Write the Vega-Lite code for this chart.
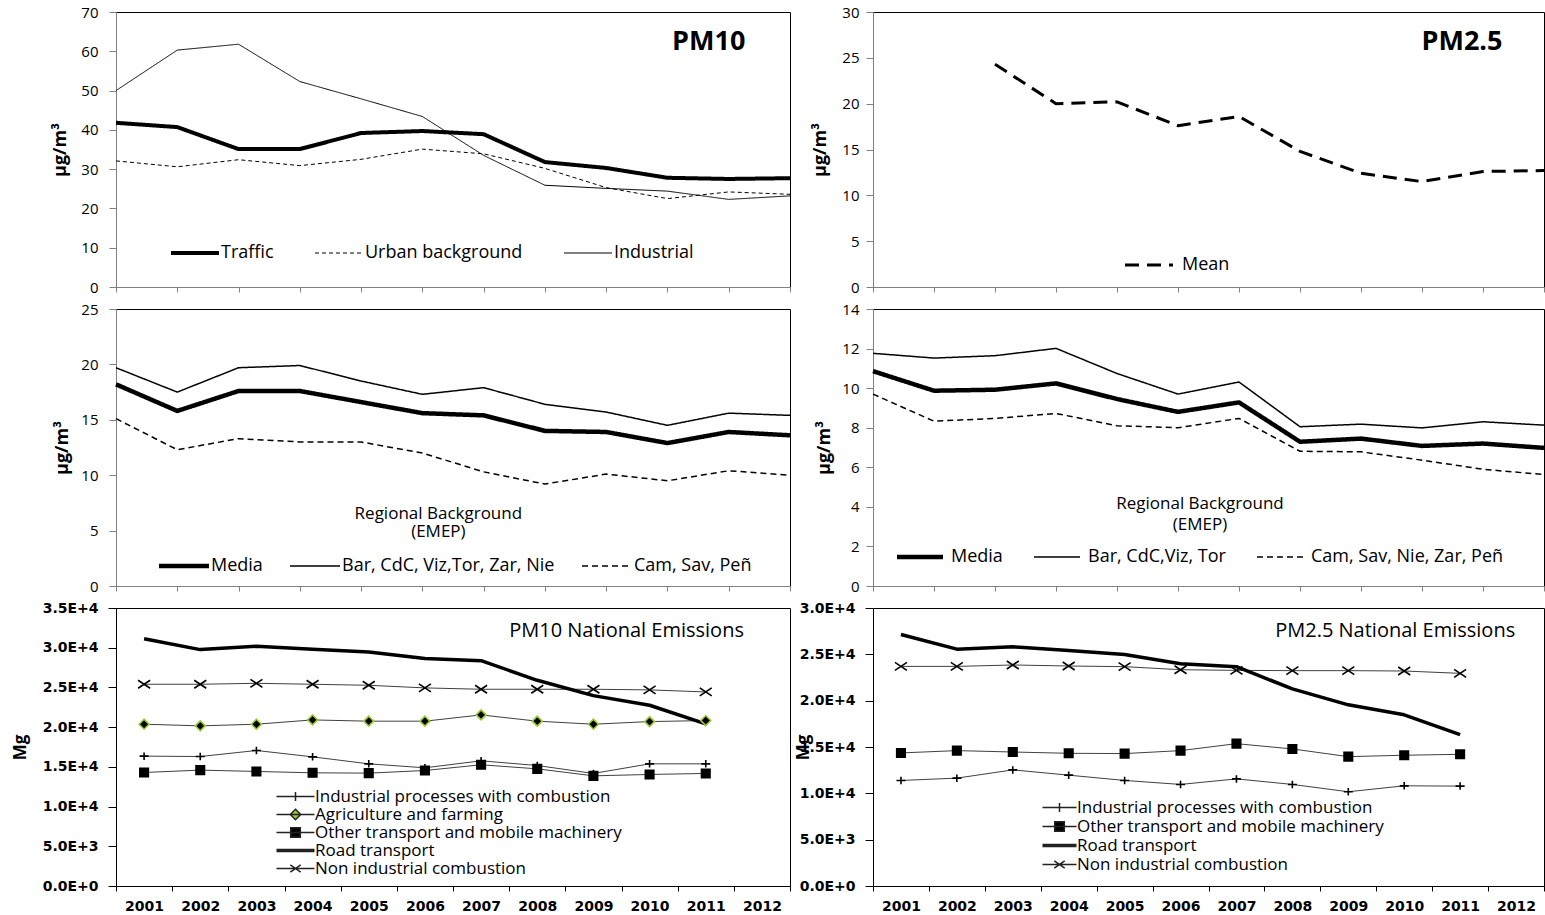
{
 "$schema": "https://vega.github.io/schema/vega-lite/v6.json",
 "autosize": {"type": "pad"},
 "padding": {"left": 10, "top": 4, "right": 0, "bottom": 0},
 "background": "white",
 "columns": 2,
 "bounds": "flush",
 "spacing": {"row": 22, "column": 83},
 "resolve": {
  "scale": {"strokeDash": "independent", "strokeWidth": "independent", "shape": "independent", "stroke": "independent", "color": "independent", "fill": "independent"},
  "legend": {"strokeDash": "independent", "shape": "independent", "strokeWidth": "independent", "stroke": "independent", "fill": "independent"}
 },
 "config": {
  "view": {"stroke": "black", "strokeWidth": 1},
  "font": "Open Sans",
  "axis": {"grid": false, "labelFont": "Open Sans", "labelColor": "black", "titleColor": "black", "titleFont": "Open Sans", "titleFontWeight": "bold", "domainWidth": 1, "tickWidth": 1, "labelOverlap": false},
  "legend": {"padding": 0, "labelFont": "Open Sans", "labelColor": "black", "labelLimit": 400, "title": null}
 },
 "datasets": {
  "tl": [
   {"year": "2001", "series": "Traffic", "value": 41.8},
   {"year": "2002", "series": "Traffic", "value": 40.7},
   {"year": "2003", "series": "Traffic", "value": 35.1},
   {"year": "2004", "series": "Traffic", "value": 35.1},
   {"year": "2005", "series": "Traffic", "value": 39.2},
   {"year": "2006", "series": "Traffic", "value": 39.7},
   {"year": "2007", "series": "Traffic", "value": 38.9},
   {"year": "2008", "series": "Traffic", "value": 31.8},
   {"year": "2009", "series": "Traffic", "value": 30.3},
   {"year": "2010", "series": "Traffic", "value": 27.8},
   {"year": "2011", "series": "Traffic", "value": 27.5},
   {"year": "2012", "series": "Traffic", "value": 27.7},
   {"year": "2001", "series": "Urban background", "value": 32.1},
   {"year": "2002", "series": "Urban background", "value": 30.6},
   {"year": "2003", "series": "Urban background", "value": 32.4},
   {"year": "2004", "series": "Urban background", "value": 30.9},
   {"year": "2005", "series": "Urban background", "value": 32.5},
   {"year": "2006", "series": "Urban background", "value": 35.1},
   {"year": "2007", "series": "Urban background", "value": 33.9},
   {"year": "2008", "series": "Urban background", "value": 30.2},
   {"year": "2009", "series": "Urban background", "value": 25.3},
   {"year": "2010", "series": "Urban background", "value": 22.5},
   {"year": "2011", "series": "Urban background", "value": 24.2},
   {"year": "2012", "series": "Urban background", "value": 23.6},
   {"year": "2001", "series": "Industrial", "value": 50.0},
   {"year": "2002", "series": "Industrial", "value": 60.3},
   {"year": "2003", "series": "Industrial", "value": 61.8},
   {"year": "2004", "series": "Industrial", "value": 52.3},
   {"year": "2005", "series": "Industrial", "value": 47.9},
   {"year": "2006", "series": "Industrial", "value": 43.4},
   {"year": "2007", "series": "Industrial", "value": 33.5},
   {"year": "2008", "series": "Industrial", "value": 25.9},
   {"year": "2009", "series": "Industrial", "value": 25.1},
   {"year": "2010", "series": "Industrial", "value": 24.4},
   {"year": "2011", "series": "Industrial", "value": 22.3},
   {"year": "2012", "series": "Industrial", "value": 23.2}
  ],
  "tr": [
   {"year": "2003", "series": "Mean", "value": 24.3},
   {"year": "2004", "series": "Mean", "value": 20.0},
   {"year": "2005", "series": "Mean", "value": 20.2},
   {"year": "2006", "series": "Mean", "value": 17.6},
   {"year": "2007", "series": "Mean", "value": 18.6},
   {"year": "2008", "series": "Mean", "value": 14.8},
   {"year": "2009", "series": "Mean", "value": 12.4},
   {"year": "2010", "series": "Mean", "value": 11.5},
   {"year": "2011", "series": "Mean", "value": 12.6},
   {"year": "2012", "series": "Mean", "value": 12.7}
  ],
  "ml": [
   {"year": "2001", "series": "Media", "value": 18.2},
   {"year": "2002", "series": "Media", "value": 15.8},
   {"year": "2003", "series": "Media", "value": 17.6},
   {"year": "2004", "series": "Media", "value": 17.6},
   {"year": "2005", "series": "Media", "value": 16.6},
   {"year": "2006", "series": "Media", "value": 15.6},
   {"year": "2007", "series": "Media", "value": 15.4},
   {"year": "2008", "series": "Media", "value": 14.0},
   {"year": "2009", "series": "Media", "value": 13.9},
   {"year": "2010", "series": "Media", "value": 12.9},
   {"year": "2011", "series": "Media", "value": 13.9},
   {"year": "2012", "series": "Media", "value": 13.6},
   {"year": "2001", "series": "Bar, CdC, Viz,Tor, Zar, Nie", "value": 19.7},
   {"year": "2002", "series": "Bar, CdC, Viz,Tor, Zar, Nie", "value": 17.5},
   {"year": "2003", "series": "Bar, CdC, Viz,Tor, Zar, Nie", "value": 19.7},
   {"year": "2004", "series": "Bar, CdC, Viz,Tor, Zar, Nie", "value": 19.9},
   {"year": "2005", "series": "Bar, CdC, Viz,Tor, Zar, Nie", "value": 18.5},
   {"year": "2006", "series": "Bar, CdC, Viz,Tor, Zar, Nie", "value": 17.3},
   {"year": "2007", "series": "Bar, CdC, Viz,Tor, Zar, Nie", "value": 17.9},
   {"year": "2008", "series": "Bar, CdC, Viz,Tor, Zar, Nie", "value": 16.4},
   {"year": "2009", "series": "Bar, CdC, Viz,Tor, Zar, Nie", "value": 15.7},
   {"year": "2010", "series": "Bar, CdC, Viz,Tor, Zar, Nie", "value": 14.5},
   {"year": "2011", "series": "Bar, CdC, Viz,Tor, Zar, Nie", "value": 15.6},
   {"year": "2012", "series": "Bar, CdC, Viz,Tor, Zar, Nie", "value": 15.4},
   {"year": "2001", "series": "Cam, Sav, Peñ", "value": 15.1},
   {"year": "2002", "series": "Cam, Sav, Peñ", "value": 12.3},
   {"year": "2003", "series": "Cam, Sav, Peñ", "value": 13.3},
   {"year": "2004", "series": "Cam, Sav, Peñ", "value": 13.0},
   {"year": "2005", "series": "Cam, Sav, Peñ", "value": 13.0},
   {"year": "2006", "series": "Cam, Sav, Peñ", "value": 12.0},
   {"year": "2007", "series": "Cam, Sav, Peñ", "value": 10.3},
   {"year": "2008", "series": "Cam, Sav, Peñ", "value": 9.2},
   {"year": "2009", "series": "Cam, Sav, Peñ", "value": 10.1},
   {"year": "2010", "series": "Cam, Sav, Peñ", "value": 9.5},
   {"year": "2011", "series": "Cam, Sav, Peñ", "value": 10.4},
   {"year": "2012", "series": "Cam, Sav, Peñ", "value": 10.0}
  ],
  "mr": [
   {"year": "2001", "series": "Media", "value": 10.86},
   {"year": "2002", "series": "Media", "value": 9.87},
   {"year": "2003", "series": "Media", "value": 9.92},
   {"year": "2004", "series": "Media", "value": 10.24},
   {"year": "2005", "series": "Media", "value": 9.45},
   {"year": "2006", "series": "Media", "value": 8.80},
   {"year": "2007", "series": "Media", "value": 9.28},
   {"year": "2008", "series": "Media", "value": 7.29},
   {"year": "2009", "series": "Media", "value": 7.45},
   {"year": "2010", "series": "Media", "value": 7.08},
   {"year": "2011", "series": "Media", "value": 7.20},
   {"year": "2012", "series": "Media", "value": 6.98},
   {"year": "2001", "series": "Bar, CdC,Viz, Tor", "value": 11.76},
   {"year": "2002", "series": "Bar, CdC,Viz, Tor", "value": 11.52},
   {"year": "2003", "series": "Bar, CdC,Viz, Tor", "value": 11.64},
   {"year": "2004", "series": "Bar, CdC,Viz, Tor", "value": 12.01},
   {"year": "2005", "series": "Bar, CdC,Viz, Tor", "value": 10.74},
   {"year": "2006", "series": "Bar, CdC,Viz, Tor", "value": 9.70},
   {"year": "2007", "series": "Bar, CdC,Viz, Tor", "value": 10.31},
   {"year": "2008", "series": "Bar, CdC,Viz, Tor", "value": 8.05},
   {"year": "2009", "series": "Bar, CdC,Viz, Tor", "value": 8.18},
   {"year": "2010", "series": "Bar, CdC,Viz, Tor", "value": 7.99},
   {"year": "2011", "series": "Bar, CdC,Viz, Tor", "value": 8.30},
   {"year": "2012", "series": "Bar, CdC,Viz, Tor", "value": 8.13},
   {"year": "2001", "series": "Cam, Sav, Nie, Zar, Peñ", "value": 9.70},
   {"year": "2002", "series": "Cam, Sav, Nie, Zar, Peñ", "value": 8.33},
   {"year": "2003", "series": "Cam, Sav, Nie, Zar, Peñ", "value": 8.47},
   {"year": "2004", "series": "Cam, Sav, Nie, Zar, Peñ", "value": 8.72},
   {"year": "2005", "series": "Cam, Sav, Nie, Zar, Peñ", "value": 8.10},
   {"year": "2006", "series": "Cam, Sav, Nie, Zar, Peñ", "value": 8.00},
   {"year": "2007", "series": "Cam, Sav, Nie, Zar, Peñ", "value": 8.47},
   {"year": "2008", "series": "Cam, Sav, Nie, Zar, Peñ", "value": 6.81},
   {"year": "2009", "series": "Cam, Sav, Nie, Zar, Peñ", "value": 6.78},
   {"year": "2010", "series": "Cam, Sav, Nie, Zar, Peñ", "value": 6.36},
   {"year": "2011", "series": "Cam, Sav, Nie, Zar, Peñ", "value": 5.90},
   {"year": "2012", "series": "Cam, Sav, Nie, Zar, Peñ", "value": 5.63}
  ],
  "bl": [
   {"year": "2001", "series": "Road transport", "value": 31140},
   {"year": "2002", "series": "Road transport", "value": 29760},
   {"year": "2003", "series": "Road transport", "value": 30180},
   {"year": "2004", "series": "Road transport", "value": 29800},
   {"year": "2005", "series": "Road transport", "value": 29460},
   {"year": "2006", "series": "Road transport", "value": 28630},
   {"year": "2007", "series": "Road transport", "value": 28370},
   {"year": "2008", "series": "Road transport", "value": 25900},
   {"year": "2009", "series": "Road transport", "value": 23970},
   {"year": "2010", "series": "Road transport", "value": 22760},
   {"year": "2011", "series": "Road transport", "value": 20410},
   {"year": "2001", "series": "Non industrial combustion", "value": 25400},
   {"year": "2002", "series": "Non industrial combustion", "value": 25400},
   {"year": "2003", "series": "Non industrial combustion", "value": 25520},
   {"year": "2004", "series": "Non industrial combustion", "value": 25400},
   {"year": "2005", "series": "Non industrial combustion", "value": 25270},
   {"year": "2006", "series": "Non industrial combustion", "value": 24940},
   {"year": "2007", "series": "Non industrial combustion", "value": 24770},
   {"year": "2008", "series": "Non industrial combustion", "value": 24770},
   {"year": "2009", "series": "Non industrial combustion", "value": 24770},
   {"year": "2010", "series": "Non industrial combustion", "value": 24690},
   {"year": "2011", "series": "Non industrial combustion", "value": 24430},
   {"year": "2001", "series": "Agriculture and farming", "value": 20370},
   {"year": "2002", "series": "Agriculture and farming", "value": 20160},
   {"year": "2003", "series": "Agriculture and farming", "value": 20370},
   {"year": "2004", "series": "Agriculture and farming", "value": 20910},
   {"year": "2005", "series": "Agriculture and farming", "value": 20750},
   {"year": "2006", "series": "Agriculture and farming", "value": 20750},
   {"year": "2007", "series": "Agriculture and farming", "value": 21540},
   {"year": "2008", "series": "Agriculture and farming", "value": 20750},
   {"year": "2009", "series": "Agriculture and farming", "value": 20370},
   {"year": "2010", "series": "Agriculture and farming", "value": 20700},
   {"year": "2011", "series": "Agriculture and farming", "value": 20830},
   {"year": "2001", "series": "Industrial processes with combustion", "value": 16350},
   {"year": "2002", "series": "Industrial processes with combustion", "value": 16300},
   {"year": "2003", "series": "Industrial processes with combustion", "value": 17060},
   {"year": "2004", "series": "Industrial processes with combustion", "value": 16260},
   {"year": "2005", "series": "Industrial processes with combustion", "value": 15380},
   {"year": "2006", "series": "Industrial processes with combustion", "value": 14880},
   {"year": "2007", "series": "Industrial processes with combustion", "value": 15760},
   {"year": "2008", "series": "Industrial processes with combustion", "value": 15170},
   {"year": "2009", "series": "Industrial processes with combustion", "value": 14170},
   {"year": "2010", "series": "Industrial processes with combustion", "value": 15380},
   {"year": "2011", "series": "Industrial processes with combustion", "value": 15380},
   {"year": "2001", "series": "Other transport and mobile machinery", "value": 14290},
   {"year": "2002", "series": "Other transport and mobile machinery", "value": 14590},
   {"year": "2003", "series": "Other transport and mobile machinery", "value": 14420},
   {"year": "2004", "series": "Other transport and mobile machinery", "value": 14250},
   {"year": "2005", "series": "Other transport and mobile machinery", "value": 14210},
   {"year": "2006", "series": "Other transport and mobile machinery", "value": 14540},
   {"year": "2007", "series": "Other transport and mobile machinery", "value": 15260},
   {"year": "2008", "series": "Other transport and mobile machinery", "value": 14750},
   {"year": "2009", "series": "Other transport and mobile machinery", "value": 13870},
   {"year": "2010", "series": "Other transport and mobile machinery", "value": 14040},
   {"year": "2011", "series": "Other transport and mobile machinery", "value": 14170}
  ],
  "br": [
   {"year": "2001", "series": "Road transport", "value": 27140},
   {"year": "2002", "series": "Road transport", "value": 25560},
   {"year": "2003", "series": "Road transport", "value": 25810},
   {"year": "2004", "series": "Road transport", "value": 25420},
   {"year": "2005", "series": "Road transport", "value": 24990},
   {"year": "2006", "series": "Road transport", "value": 23990},
   {"year": "2007", "series": "Road transport", "value": 23670},
   {"year": "2008", "series": "Road transport", "value": 21270},
   {"year": "2009", "series": "Road transport", "value": 19550},
   {"year": "2010", "series": "Road transport", "value": 18470},
   {"year": "2011", "series": "Road transport", "value": 16330},
   {"year": "2001", "series": "Non industrial combustion", "value": 23700},
   {"year": "2002", "series": "Non industrial combustion", "value": 23700},
   {"year": "2003", "series": "Non industrial combustion", "value": 23850},
   {"year": "2004", "series": "Non industrial combustion", "value": 23740},
   {"year": "2005", "series": "Non industrial combustion", "value": 23670},
   {"year": "2006", "series": "Non industrial combustion", "value": 23340},
   {"year": "2007", "series": "Non industrial combustion", "value": 23270},
   {"year": "2008", "series": "Non industrial combustion", "value": 23240},
   {"year": "2009", "series": "Non industrial combustion", "value": 23240},
   {"year": "2010", "series": "Non industrial combustion", "value": 23200},
   {"year": "2011", "series": "Non industrial combustion", "value": 22950},
   {"year": "2001", "series": "Other transport and mobile machinery", "value": 14360},
   {"year": "2002", "series": "Other transport and mobile machinery", "value": 14610},
   {"year": "2003", "series": "Other transport and mobile machinery", "value": 14460},
   {"year": "2004", "series": "Other transport and mobile machinery", "value": 14320},
   {"year": "2005", "series": "Other transport and mobile machinery", "value": 14290},
   {"year": "2006", "series": "Other transport and mobile machinery", "value": 14610},
   {"year": "2007", "series": "Other transport and mobile machinery", "value": 15360},
   {"year": "2008", "series": "Other transport and mobile machinery", "value": 14790},
   {"year": "2009", "series": "Other transport and mobile machinery", "value": 13960},
   {"year": "2010", "series": "Other transport and mobile machinery", "value": 14110},
   {"year": "2011", "series": "Other transport and mobile machinery", "value": 14210},
   {"year": "2001", "series": "Industrial processes with combustion", "value": 11390},
   {"year": "2002", "series": "Industrial processes with combustion", "value": 11640},
   {"year": "2003", "series": "Industrial processes with combustion", "value": 12530},
   {"year": "2004", "series": "Industrial processes with combustion", "value": 11960},
   {"year": "2005", "series": "Industrial processes with combustion", "value": 11390},
   {"year": "2006", "series": "Industrial processes with combustion", "value": 10960},
   {"year": "2007", "series": "Industrial processes with combustion", "value": 11560},
   {"year": "2008", "series": "Industrial processes with combustion", "value": 10960},
   {"year": "2009", "series": "Industrial processes with combustion", "value": 10170},
   {"year": "2010", "series": "Industrial processes with combustion", "value": 10810},
   {"year": "2011", "series": "Industrial processes with combustion", "value": 10780}
  ]
 },
 "concat": [
  {
   "width": 674, "height": 275,
   "layer": [
    {
     "data": {"name": "tl"},
     "mark": {"type": "line", "stroke": "black", "strokeJoin": "round"},
     "encoding": {
      "x": {"field": "year", "type": "ordinal", "scale": {"type": "point", "padding": 0, "domain": ["2001","2002","2003","2004","2005","2006","2007","2008","2009","2010","2011","2012"]}, "axis": {"title": null, "labels": false, "tickSize": 5, "tickColor": "#808080", "domainColor": "#808080"}},
      "y": {"field": "value", "type": "quantitative", "scale": {"domain": [0, 70], "nice": false}, "axis": {"title": "μg/m³", "titleX": -56, "titleAngle": -90, "titleAlign": "center", "titleBaseline": "middle", "titleFontSize": 18, "values": [0,10,20,30,40,50,60,70], "tickCount": 20, "format": "d", "labelFontSize": 15, "tickSize": 7, "labelPadding": 11, "tickColor": "#808080", "domainColor": "#808080"}},
      "strokeDash": {"field": "series", "type": "nominal", "scale": {"domain": ["Traffic","Urban background","Industrial"], "range": [[1,0],[4,3],[1,0]]}, "legend": {"orient": "none", "legendX": 86, "legendY": 232, "direction": "horizontal", "symbolType": "M-20,0H4", "symbolSize": 16, "symbolStrokeColor": "black", "labelFontSize": 18, "labelOffset": 1, "columnPadding": 39}},
      "strokeWidth": {"field": "series", "type": "nominal", "scale": {"type": "ordinal", "domain": ["Traffic","Urban background","Industrial"], "range": [4,1,1]}, "legend": null}
     }
    },
    {
     "data": {"values": [{"year": "2011", "value": 62.4, "label": "PM10"}]},
     "mark": {"type": "text", "fontSize": 27, "fontWeight": "bold", "dx": -20, "baseline": "middle", "align": "center", "color": "black"},
     "encoding": {"x": {"field": "year", "type": "ordinal"}, "y": {"field": "value", "type": "quantitative"}, "text": {"field": "label"}}
    }
   ]
  },
  {
   "width": 671, "height": 275,
   "layer": [
    {
     "data": {"name": "tr"},
     "mark": {"type": "line", "stroke": "black", "strokeWidth": 3, "strokeJoin": "round"},
     "encoding": {
      "x": {"field": "year", "type": "ordinal", "scale": {"type": "point", "padding": 0, "domain": ["2001","2002","2003","2004","2005","2006","2007","2008","2009","2010","2011","2012"]}, "axis": {"title": null, "labels": false, "tickSize": 5, "tickColor": "#808080", "domainColor": "#808080"}},
      "y": {"field": "value", "type": "quantitative", "scale": {"domain": [0, 30], "nice": false}, "axis": {"title": "μg/m³", "titleX": -53, "titleAngle": -90, "titleAlign": "center", "titleBaseline": "middle", "titleFontSize": 18, "values": [0,5,10,15,20,25,30], "tickCount": 20, "format": "d", "labelFontSize": 15, "tickSize": 7, "labelPadding": 7, "tickColor": "#808080", "domainColor": "#808080"}},
      "strokeDash": {"field": "series", "type": "nominal", "scale": {"domain": ["Mean"], "range": [[14,8]]}, "legend": {"orient": "none", "legendX": 283, "legendY": 244, "direction": "horizontal", "symbolType": "M-20,0H4", "symbolSize": 16, "symbolStrokeColor": "black", "symbolStrokeWidth": 3, "labelFontSize": 18, "labelOffset": 8}}
     }
    },
    {
     "data": {"values": [{"year": "2011", "value": 26.7, "label": "PM2.5"}]},
     "mark": {"type": "text", "fontSize": 27, "fontWeight": "bold", "dx": -21, "baseline": "middle", "align": "center", "color": "black"},
     "encoding": {"x": {"field": "year", "type": "ordinal"}, "y": {"field": "value", "type": "quantitative"}, "text": {"field": "label"}}
    }
   ]
  },
  {
   "width": 674, "height": 277,
   "layer": [
    {
     "data": {"name": "ml"},
     "mark": {"type": "line", "stroke": "black", "strokeJoin": "round"},
     "encoding": {
      "x": {"field": "year", "type": "ordinal", "scale": {"type": "point", "padding": 0, "domain": ["2001","2002","2003","2004","2005","2006","2007","2008","2009","2010","2011","2012"]}, "axis": {"title": null, "labels": false, "tickSize": 5, "tickColor": "#808080", "domainColor": "#808080"}},
      "y": {"field": "value", "type": "quantitative", "scale": {"domain": [0, 25], "nice": false}, "axis": {"title": "μg/m³", "titleX": -54, "titleAngle": -90, "titleAlign": "center", "titleBaseline": "middle", "titleFontSize": 18, "values": [0,5,10,15,20,25], "tickCount": 20, "format": "d", "labelFontSize": 15, "tickSize": 7, "labelPadding": 11, "tickColor": "#808080", "domainColor": "#808080"}},
      "strokeDash": {"field": "series", "type": "nominal", "scale": {"domain": ["Media","Bar, CdC, Viz,Tor, Zar, Nie","Cam, Sav, Peñ"], "range": [[1,0],[1,0],[6,4]]}, "legend": {"orient": "none", "legendX": 76, "legendY": 248, "direction": "horizontal", "symbolType": "M-21,0H4", "symbolSize": 16, "symbolStrokeColor": "black", "labelFontSize": 18, "labelOffset": 1, "columnPadding": 24}},
      "strokeWidth": {"field": "series", "type": "nominal", "scale": {"type": "ordinal", "domain": ["Media","Bar, CdC, Viz,Tor, Zar, Nie","Cam, Sav, Peñ"], "range": [4.5,1.5,1.5]}, "legend": null}
     }
    },
    {
     "data": {"values": [{"year": "2006", "value": 6.54, "label": "Regional Background|(EMEP)"}]},
     "mark": {"type": "text", "fontSize": 17, "lineBreak": "|", "lineHeight": 18, "dx": 16, "baseline": "middle", "align": "center", "color": "black"},
     "encoding": {"x": {"field": "year", "type": "ordinal"}, "y": {"field": "value", "type": "quantitative"}, "text": {"field": "label"}}
    }
   ]
  },
  {
   "width": 671, "height": 277,
   "layer": [
    {
     "data": {"name": "mr"},
     "mark": {"type": "line", "stroke": "black", "strokeJoin": "round"},
     "encoding": {
      "x": {"field": "year", "type": "ordinal", "scale": {"type": "point", "padding": 0, "domain": ["2001","2002","2003","2004","2005","2006","2007","2008","2009","2010","2011","2012"]}, "axis": {"title": null, "labels": false, "tickSize": 5, "tickColor": "#808080", "domainColor": "#808080"}},
      "y": {"field": "value", "type": "quantitative", "scale": {"domain": [0, 14], "nice": false}, "axis": {"title": "μg/m³", "titleX": -49, "titleAngle": -90, "titleAlign": "center", "titleBaseline": "middle", "titleFontSize": 18, "values": [0,2,4,6,8,10,12,14], "tickCount": 20, "format": "d", "labelFontSize": 15, "tickSize": 7, "labelPadding": 7, "tickColor": "#808080", "domainColor": "#808080"}},
      "strokeDash": {"field": "series", "type": "nominal", "scale": {"domain": ["Media","Bar, CdC,Viz, Tor","Cam, Sav, Nie, Zar, Peñ"], "range": [[1,0],[1,0],[6,4]]}, "legend": {"orient": "none", "legendX": 53, "legendY": 239, "direction": "horizontal", "symbolType": "M-19,0H4", "symbolSize": 16, "symbolStrokeColor": "black", "labelFontSize": 18, "labelOffset": 7, "columnPadding": 28}},
      "strokeWidth": {"field": "series", "type": "nominal", "scale": {"type": "ordinal", "domain": ["Media","Bar, CdC,Viz, Tor","Cam, Sav, Nie, Zar, Peñ"], "range": [4.5,1.5,1.5]}, "legend": null}
     }
    },
    {
     "data": {"values": [{"year": "2006", "value": 4.12, "label": "Regional Background|(EMEP)"}]},
     "mark": {"type": "text", "fontSize": 17, "lineBreak": "|", "lineHeight": 21, "dx": 22, "baseline": "middle", "align": "center", "color": "black"},
     "encoding": {"x": {"field": "year", "type": "ordinal"}, "y": {"field": "value", "type": "quantitative"}, "text": {"field": "label"}}
    }
   ]
  },
  {
   "width": 674, "height": 278,
   "resolve": {"scale": {"shape": "independent", "fill": "independent", "strokeWidth": "independent"}, "legend": {"shape": "independent"}},
   "layer": [
    {
     "data": {"name": "bl"},
     "transform": [{"filter": "datum.series !== 'Road transport'"}],
     "mark": {"type": "line", "stroke": "#404040", "strokeWidth": 1},
     "encoding": {
      "x": {"field": "year", "type": "ordinal", "scale": {"type": "band", "paddingInner": 0, "paddingOuter": 0, "domain": ["2001","2002","2003","2004","2005","2006","2007","2008","2009","2010","2011","2012"]}, "axis": {"title": null, "tickBand": "extent", "labelAngle": 0, "labelFont": "DejaVu Sans", "labelFontWeight": "bold", "labelFontSize": 14, "labelPadding": 8, "tickSize": 5, "tickColor": "black", "domainColor": "black"}},
      "y": {"field": "value", "type": "quantitative", "scale": {"domain": [0, 35000], "nice": false}, "axis": {"title": "Mg", "titleX": -96, "titleAngle": -90, "titleAlign": "center", "titleBaseline": "middle", "titleFontSize": 17, "values": [0,5000,10000,15000,20000,25000,30000,35000], "tickCount": 20, "labelExpr": "datum.value == 0 ? '0.0E+0' : datum.value < 10000 ? format(datum.value / 1000, '.1f') + 'E+3' : format(datum.value / 10000, '.1f') + 'E+4'", "labelFont": "DejaVu Sans", "labelFontWeight": "bold", "labelFontSize": 14, "tickSize": 8, "labelPadding": 10, "tickColor": "black", "domainColor": "black"}},
      "detail": {"field": "series"}
     }
    },
    {
     "data": {"name": "bl"},
     "transform": [{"filter": "datum.series === 'Road transport'"}],
     "mark": {"type": "line", "stroke": "black", "strokeWidth": 3.5, "strokeJoin": "round"},
     "encoding": {
      "x": {"field": "year", "type": "ordinal"},
      "y": {"field": "value", "type": "quantitative"}
     }
    },
    {
     "data": {"name": "bl"},
     "transform": [{"filter": "datum.series !== 'Road transport'"}],
     "mark": {"type": "point", "filled": true, "fill": "black", "size": 100, "strokeWidth": 1.6, "opacity": 1},
     "encoding": {
      "x": {"field": "year", "type": "ordinal"},
      "y": {"field": "value", "type": "quantitative"},
      "shape": {"field": "series", "type": "nominal", "scale": {"domain": ["Industrial processes with combustion","Agriculture and farming","Other transport and mobile machinery","Non industrial combustion"], "range": ["M-0.9,0H0.9M0,-0.75V0.75", "diamond", "M-0.85,-0.85H0.85V0.85H-0.85Z", "M-1.2,-0.8L1.2,0.8M-1.2,0.8L1.2,-0.8"]}, "legend": null},
      "stroke": {"field": "series", "type": "nominal", "scale": {"domain": ["Industrial processes with combustion","Agriculture and farming","Other transport and mobile machinery","Non industrial combustion"], "range": ["black", "#9ACD32", "black", "black"]}, "legend": null}
     }
    },
    {
     "data": {"name": "bl"},
     "transform": [{"filter": "false"}],
     "mark": {"type": "point", "filled": false, "stroke": "#222222", "fill": "black", "opacity": 1},
     "encoding": {
      "x": {"field": "year", "type": "ordinal"},
      "y": {"field": "value", "type": "quantitative"},
      "shape": {"field": "series", "type": "nominal", "scale": {"domain": ["Industrial processes with combustion","Agriculture and farming","Other transport and mobile machinery","Road transport","Non industrial combustion"], "range": ["M-14.5,0H4.5M-5,-2.2V2.2", "M-14.5,0H4.5M-5,-2.6L-2.4,0L-5,2.6L-7.6,0Z", "M-14.5,0H4.5M-7.4,-2.4H-2.6V2.4H-7.4Z", "M-14.5,0H4.5", "M-14.5,0H4.5M-7.6,-1.8L-2.4,1.8M-7.6,1.8L-2.4,-1.8"]},
       "legend": {"orient": "none", "legendX": 181, "legendY": 180, "direction": "vertical", "symbolSize": 16, "symbolStrokeColor": "#222222", "symbolFillColor": "black", "symbolOpacity": 1, "labelFontSize": 17, "labelOffset": 1, "rowPadding": 0}},
      "strokeWidth": {"field": "series", "type": "nominal", "scale": {"type": "ordinal", "domain": ["Industrial processes with combustion","Agriculture and farming","Other transport and mobile machinery","Road transport","Non industrial combustion"], "range": [1.5, 1.5, 1.5, 3.5, 1.5]}, "legend": null},
      "fill": {"field": "series", "type": "nominal", "scale": {"domain": ["Industrial processes with combustion","Agriculture and farming","Other transport and mobile machinery","Road transport","Non industrial combustion"], "range": ["black", "#9ACD32", "black", "black", "black"]}, "legend": null}
     }
    },
    {
     "data": {"values": [{"year": "2010", "value": 32100, "label": "PM10 National Emissions"}]},
     "mark": {"type": "text", "fontSize": 20, "dx": -23, "baseline": "middle", "align": "center", "color": "black"},
     "encoding": {"x": {"field": "year", "type": "ordinal"}, "y": {"field": "value", "type": "quantitative"}, "text": {"field": "label"}}
    }
   ]
  },
  {
   "width": 671, "height": 278,
   "resolve": {"scale": {"shape": "independent", "fill": "independent", "strokeWidth": "independent"}, "legend": {"shape": "independent"}},
   "layer": [
    {
     "data": {"name": "br"},
     "transform": [{"filter": "datum.series !== 'Road transport'"}],
     "mark": {"type": "line", "stroke": "#404040", "strokeWidth": 1},
     "encoding": {
      "x": {"field": "year", "type": "ordinal", "scale": {"type": "band", "paddingInner": 0, "paddingOuter": 0, "domain": ["2001","2002","2003","2004","2005","2006","2007","2008","2009","2010","2011","2012"]}, "axis": {"title": null, "tickBand": "extent", "labelAngle": 0, "labelFont": "DejaVu Sans", "labelFontWeight": "bold", "labelFontSize": 14, "labelPadding": 8, "tickSize": 5, "tickColor": "black", "domainColor": "black"}},
      "y": {"field": "value", "type": "quantitative", "scale": {"domain": [0, 30000], "nice": false}, "axis": {"title": "Mg", "titleX": -70, "titleAngle": -90, "titleAlign": "center", "titleBaseline": "middle", "titleFontSize": 17, "values": [0,5000,10000,15000,20000,25000,30000], "tickCount": 20, "labelExpr": "datum.value == 0 ? '0.0E+0' : datum.value < 10000 ? format(datum.value / 1000, '.1f') + 'E+3' : format(datum.value / 10000, '.1f') + 'E+4'", "labelFont": "DejaVu Sans", "labelFontWeight": "bold", "labelFontSize": 14, "tickSize": 8, "labelPadding": 10, "tickColor": "black", "domainColor": "black"}},
      "detail": {"field": "series"}
     }
    },
    {
     "data": {"name": "br"},
     "transform": [{"filter": "datum.series === 'Road transport'"}],
     "mark": {"type": "line", "stroke": "black", "strokeWidth": 3.5, "strokeJoin": "round"},
     "encoding": {
      "x": {"field": "year", "type": "ordinal"},
      "y": {"field": "value", "type": "quantitative"}
     }
    },
    {
     "data": {"name": "br"},
     "transform": [{"filter": "datum.series !== 'Road transport'"}],
     "mark": {"type": "point", "filled": true, "fill": "black", "size": 100, "strokeWidth": 1.6, "opacity": 1},
     "encoding": {
      "x": {"field": "year", "type": "ordinal"},
      "y": {"field": "value", "type": "quantitative"},
      "shape": {"field": "series", "type": "nominal", "scale": {"domain": ["Industrial processes with combustion","Other transport and mobile machinery","Non industrial combustion"], "range": ["M-0.9,0H0.9M0,-0.75V0.75", "M-0.85,-0.85H0.85V0.85H-0.85Z", "M-1.2,-0.8L1.2,0.8M-1.2,0.8L1.2,-0.8"]}, "legend": null},
      "stroke": {"field": "series", "type": "nominal", "scale": {"domain": ["Industrial processes with combustion","Other transport and mobile machinery","Non industrial combustion"], "range": ["black", "black", "black"]}, "legend": null}
     }
    },
    {
     "data": {"name": "br"},
     "transform": [{"filter": "false"}],
     "mark": {"type": "point", "filled": false, "stroke": "#222222", "fill": "black", "opacity": 1},
     "encoding": {
      "x": {"field": "year", "type": "ordinal"},
      "y": {"field": "value", "type": "quantitative"},
      "shape": {"field": "series", "type": "nominal", "scale": {"domain": ["Industrial processes with combustion","Other transport and mobile machinery","Road transport","Non industrial combustion"], "range": ["M-12.5,0H4.5M-4,-2.2V2.2", "M-12.5,0H4.5M-6.4,-2.4H-1.6V2.4H-6.4Z", "M-12.5,0H4.5", "M-12.5,0H4.5M-6.6,-1.8L-1.4,1.8M-6.6,1.8L-1.4,-1.8"]},
       "legend": {"orient": "none", "legendX": 186, "legendY": 191, "direction": "vertical", "symbolSize": 16, "symbolStrokeColor": "#222222", "symbolFillColor": "black", "symbolOpacity": 1, "labelFontSize": 17, "labelOffset": 1, "rowPadding": 1}},
      "strokeWidth": {"field": "series", "type": "nominal", "scale": {"type": "ordinal", "domain": ["Industrial processes with combustion","Other transport and mobile machinery","Road transport","Non industrial combustion"], "range": [1.5, 1.5, 3.5, 1.5]}, "legend": null},
      "fill": {"field": "series", "type": "nominal", "scale": {"domain": ["Industrial processes with combustion","Other transport and mobile machinery","Road transport","Non industrial combustion"], "range": ["black", "black", "black", "black"]}, "legend": null}
     }
    },
    {
     "data": {"values": [{"year": "2010", "value": 27520, "label": "PM2.5 National Emissions"}]},
     "mark": {"type": "text", "fontSize": 20, "dx": -9, "baseline": "middle", "align": "center", "color": "black"},
     "encoding": {"x": {"field": "year", "type": "ordinal"}, "y": {"field": "value", "type": "quantitative"}, "text": {"field": "label"}}
    }
   ]
  }
 ]
}
